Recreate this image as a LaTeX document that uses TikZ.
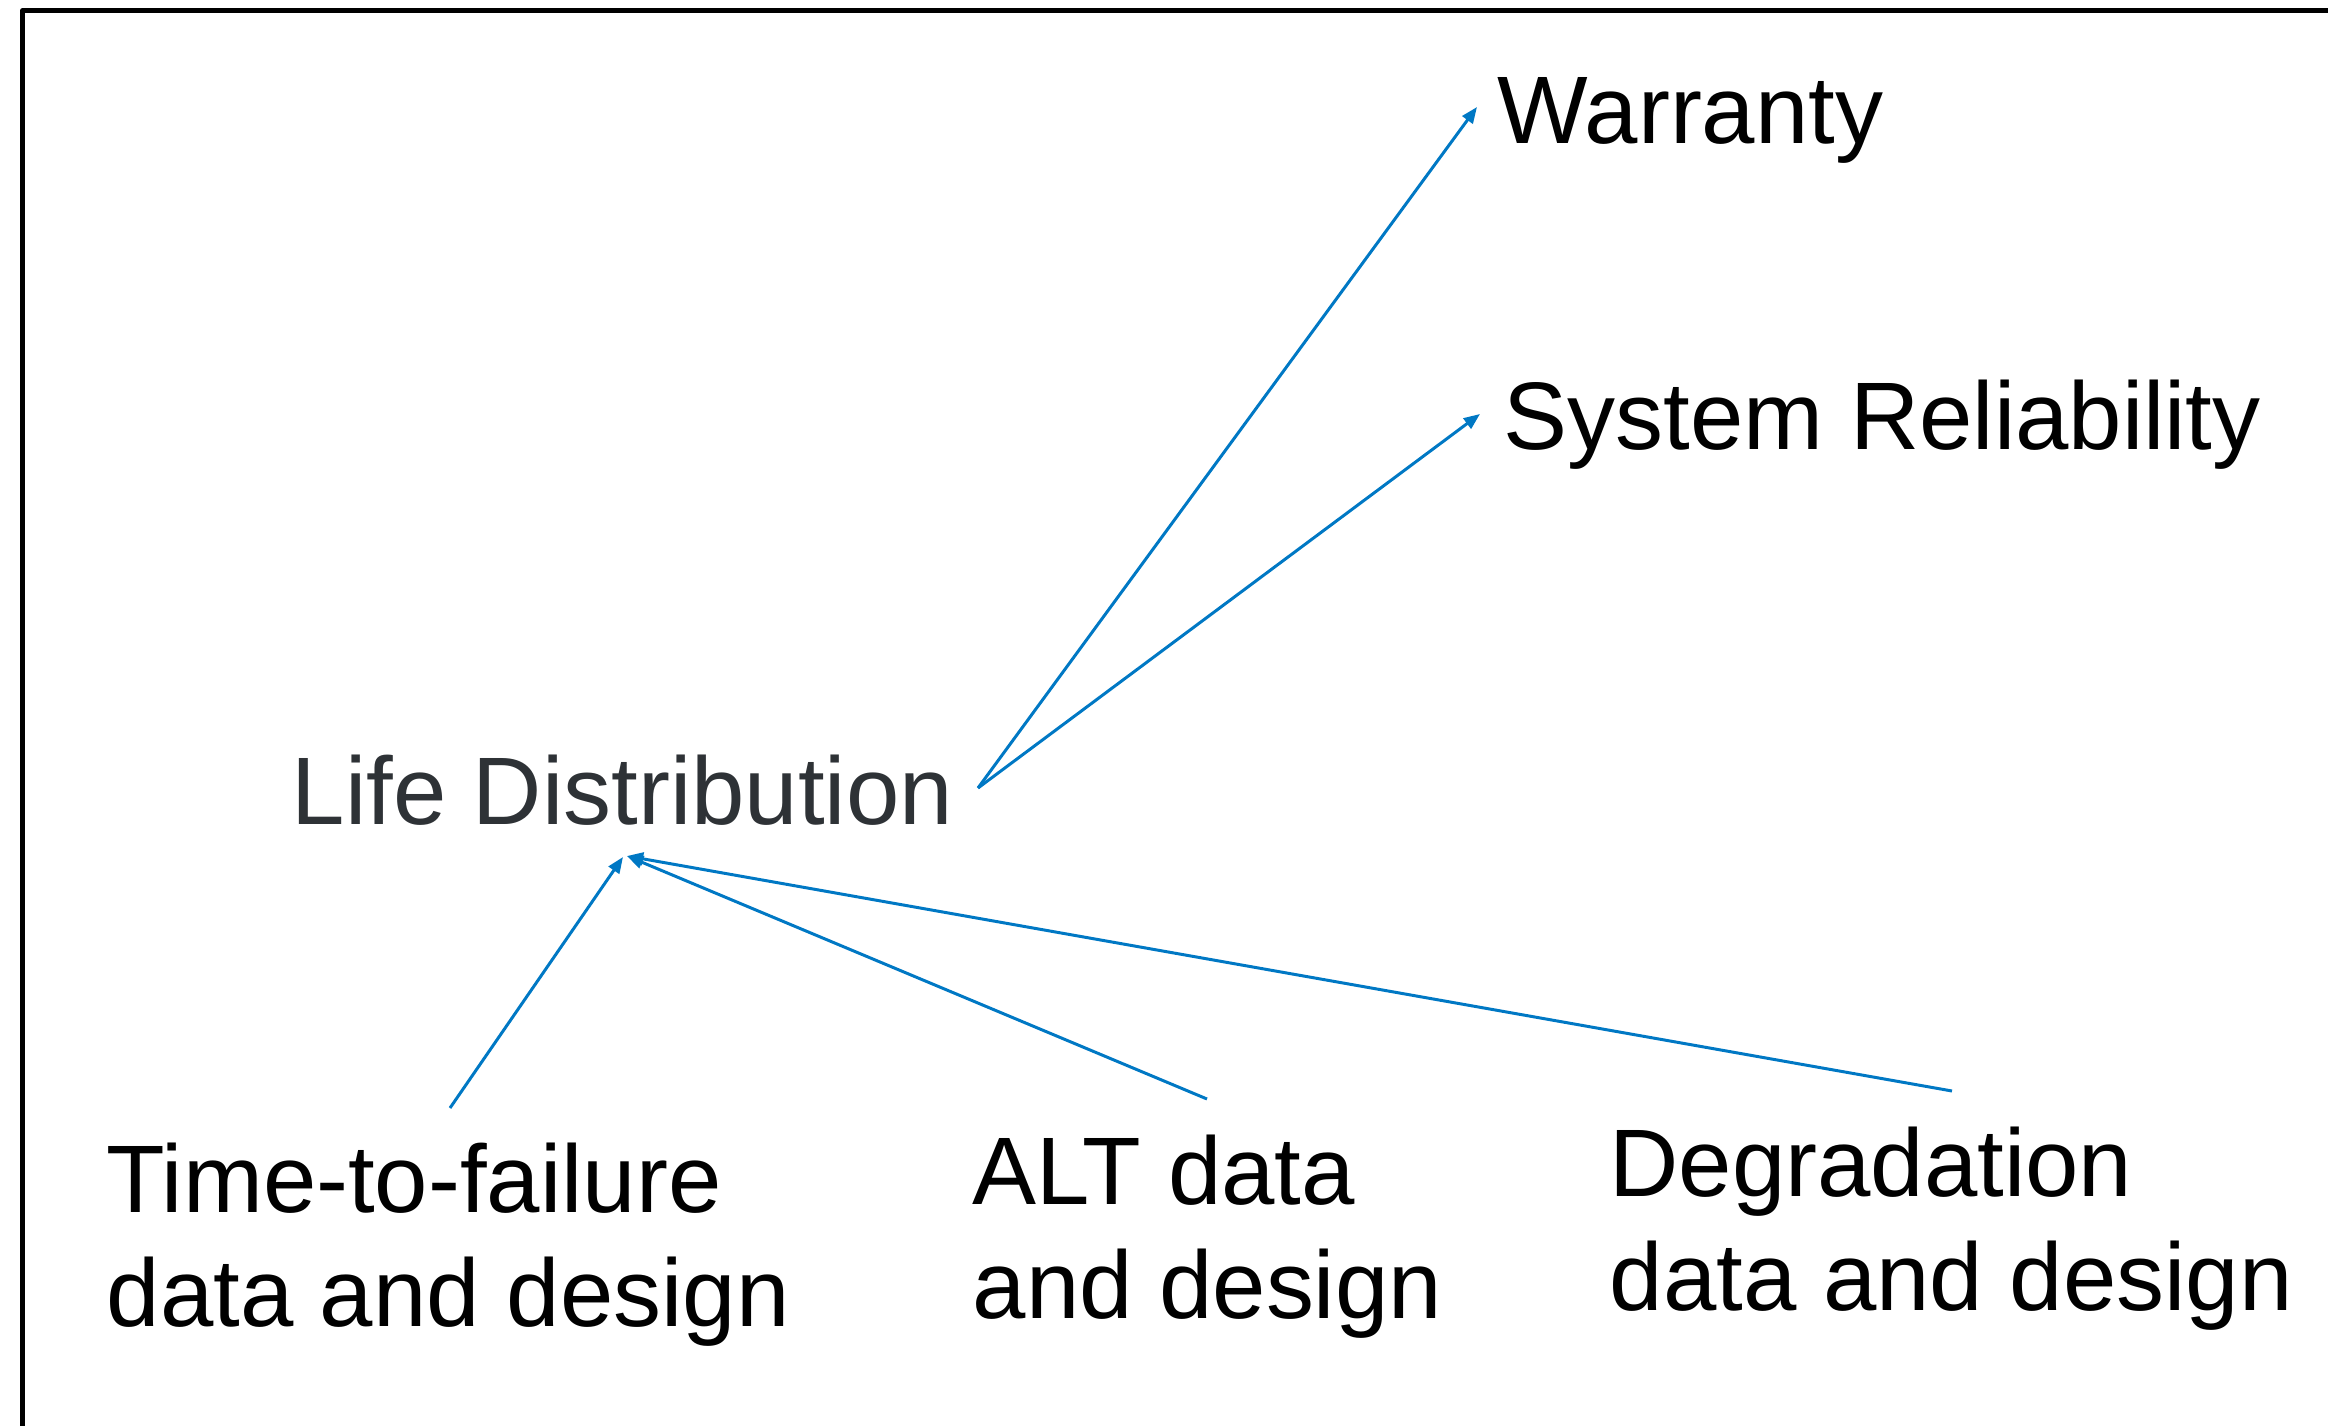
\documentclass[tikz,border=0pt]{standalone}
\usepackage{fontspec}
\setmainfont{Liberation Sans}
\usetikzlibrary{arrows.meta}
\definecolor{linkblue}{RGB}{0,120,196}
\definecolor{darktext}{RGB}{46,50,54}
\tikzset{
  term/.style={anchor=base west, inner sep=0pt, align=left,
    font=\fontsize{27.3}{32.4}\selectfont},
  link/.style={draw=linkblue, line width=0.85pt,
    -{Triangle[length=4.6pt,width=3.6pt]}}
}

\begin{document}
\begin{tikzpicture}
    \useasboundingbox (0,0) rectangle (23.28,-14.26);
    % frame, runs off the page at right and bottom
    \draw[line width=1.3pt, line join=round] (0.225,-15) -- (0.225,-0.105) -- (24,-0.105);

    \node[term] (warranty) at (14.97,-1.43) {Warranty};
    \node[term] (sysrel) at (15.03,-4.49) {System Reliability};
    \node[term, text=darktext] (lifedist) at (2.91,-8.24) {Life Distribution};
    % two-line nodes sit on the baseline of their last line
    \node[term] (ttf) at (1.06,-13.26) {Time-to-failure\\data and design};
    \node[term] (alt) at (9.72,-13.18) {ALT data\\and design};
    \node[term] (degr) at (16.09,-13.10) {Degradation\\data and design};

    % arrow ends
    \coordinate (lifedist-out) at (9.78,-7.88);
    \coordinate (lifedist-in) at (6.23,-8.57);
    \coordinate (lifedist-in2) at (6.27,-8.56);
    \coordinate (warranty-in) at (14.77,-1.07);
    \coordinate (sysrel-in) at (14.80,-4.14);
    \coordinate (ttf-out) at (4.50,-11.08);
    \coordinate (alt-out) at (12.07,-10.99);
    \coordinate (degr-out) at (19.52,-10.91);

    \draw[link] (lifedist-out) -- (warranty-in);
    \draw[link] (lifedist-out) -- (sysrel-in);
    \draw[link] (ttf-out) -- (lifedist-in);
    \draw[link] (alt-out) -- (lifedist-in2);
    \draw[link] (degr-out) -- (lifedist-in2);
\end{tikzpicture}
\end{document}
